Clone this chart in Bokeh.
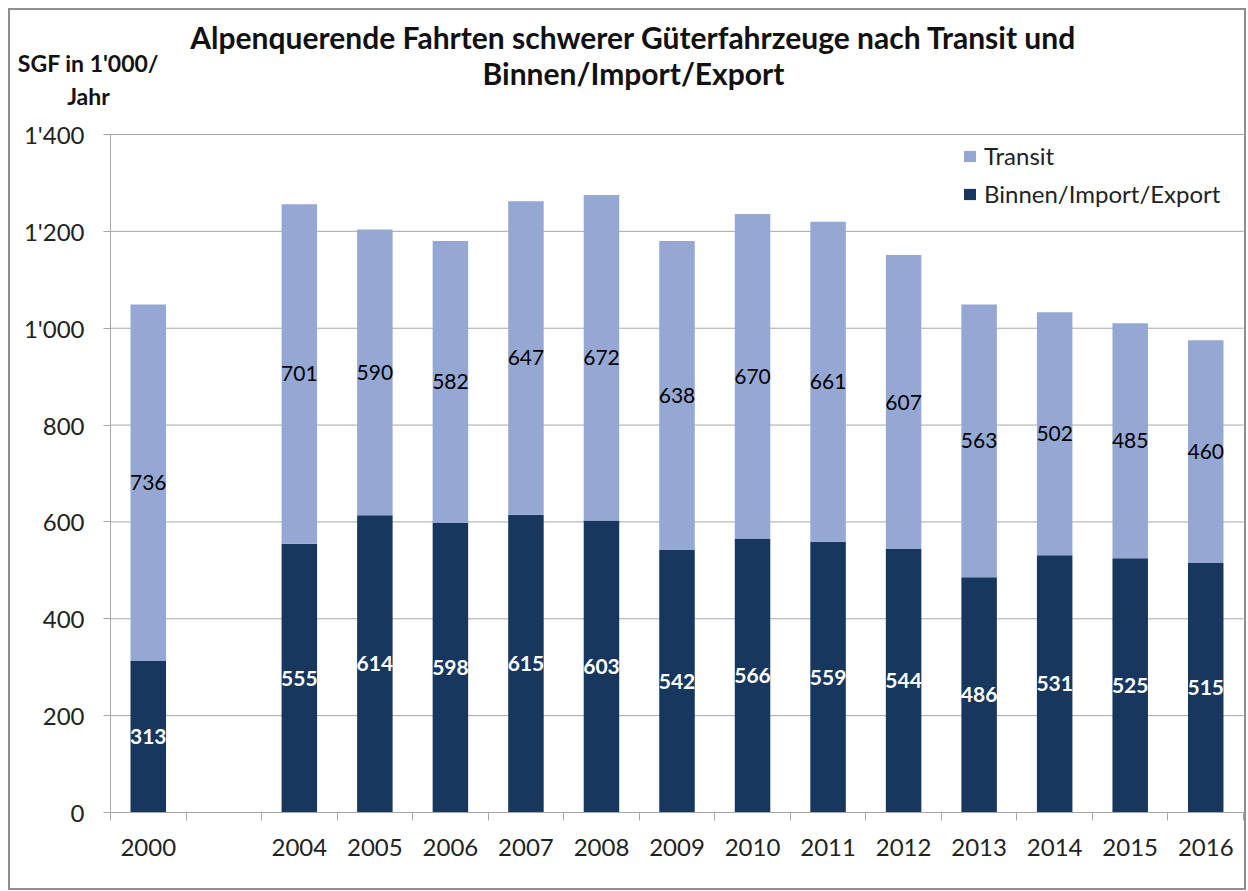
from bokeh.plotting import figure
from bokeh.models import Range1d, FixedTicker, Label, ColumnDataSource, Legend, LegendItem
from bokeh.core.properties import value
from bokeh.embed import file_html
from bokeh.resources import INLINE

# ---- data ----
slots = ["2000", "", "2004", "2005", "2006", "2007", "2008", "2009", "2010",
         "2011", "2012", "2013", "2014", "2015", "2016"]
years = ["2000", "2004", "2005", "2006", "2007", "2008", "2009", "2010",
         "2011", "2012", "2013", "2014", "2015", "2016"]
binnen = [313, 555, 614, 598, 615, 603, 542, 566, 559, 544, 486, 531, 525, 515]
transit = [736, 701, 590, 582, 647, 672, 638, 670, 661, 607, 563, 502, 485, 460]
y_ticks = [0, 200, 400, 600, 800, 1000, 1200, 1400]
y_tick_labels = ["0", "200", "400", "600", "800", "1'000", "1'200", "1'400"]

title_lines = ["Alpenquerende Fahrten schwerer Güterfahrzeuge nach Transit und",
               "Binnen/Import/Export"]
ylabel_lines = ["SGF in 1'000/", "Jahr"]

DARK = "#17375E"
LIGHT = "#95A8D4"
GRID = "#A6A6A6"
FONT = "Lato"

# ---- layout (page pixels) ----
CANVAS_LEFT, CANVAS_TOP, CANVAS_BOTTOM = 10, 10, 888
AX_LEFT, AX_RIGHT, AX_TOP, AX_BOTTOM = 110, 1243, 134, 812
FRAME_W = 1234
Y_MAX = y_ticks[-1]
NSLOT = len(slots)
SX = (AX_RIGHT - AX_LEFT) / NSLOT
SY = (AX_BOTTOM - AX_TOP) / Y_MAX


def X(px):
    return (px - AX_LEFT) / SX


def Y(py):
    return (AX_BOTTOM - py) / SY


x_range = Range1d(X(CANVAS_LEFT), X(CANVAS_LEFT + FRAME_W))
y_range = Range1d(Y(CANVAS_BOTTOM), Y(CANVAS_TOP))

xpos = [slots.index(y) + 0.5 for y in years]
src = ColumnDataSource(dict(
    x=xpos,
    binnen=binnen,
    top=[b + t for b, t in zip(binnen, transit)],
    ybin=[b / 2 for b in binnen],
    ytra=[b + t / 2 for b, t in zip(binnen, transit)],
    lbin=[str(v) for v in binnen],
    ltra=[str(v) for v in transit],
))

p = figure(frame_width=FRAME_W, frame_height=CANVAS_BOTTOM - CANVAS_TOP,
           min_border_left=0, min_border_right=0, min_border_top=0, min_border_bottom=0,
           x_range=x_range, y_range=y_range,
           output_backend="svg", toolbar_location=None)
p.styles = {"border": "2px solid #8E8E8E", "margin-left": "8px", "margin-top": "8px"}
p.outline_line_color = None
p.background_fill_color = "white"
p.border_fill_color = "white"
p.xgrid.grid_line_color = None
p.ygrid.grid_line_color = None

# horizontal gridlines limited to the plot area
grid_y = y_ticks[1:]
p.segment(x0=[0] * len(grid_y), x1=[NSLOT] * len(grid_y), y0=grid_y, y1=grid_y,
          line_color=GRID, line_width=1, level="underlay")

r_bin = p.vbar(x="x", top="binnen", bottom=0, width=0.47, source=src,
               fill_color=DARK, line_color=None)
r_tra = p.vbar(x="x", top="top", bottom="binnen", width=0.47, source=src,
               fill_color=LIGHT, line_color=None)

p.text(x="x", y="ybin", text="lbin", source=src, text_align="center",
       text_baseline="middle", text_color="white", text_font=value(FONT),
       text_font_size="21px", text_font_style="bold")
p.text(x="x", y="ytra", text="ltra", source=src, text_align="center",
       text_baseline="middle", text_color="black", text_font=value(FONT),
       text_font_size="21px")

# x axis, fixed at y = 0
xax = p.xaxis[0]
xax.fixed_location = 0
xax.bounds = (0, NSLOT)
xax.ticker = FixedTicker(ticks=[i + 0.5 for i, s in enumerate(slots) if s],
                         minor_ticks=list(range(NSLOT + 1)))
xax.major_label_overrides = {i + 0.5: s for i, s in enumerate(slots) if s}
xax.major_tick_line_color = None
xax.major_tick_out = 0
xax.major_tick_in = 0
xax.minor_tick_line_color = GRID
xax.minor_tick_out = 8
xax.minor_tick_in = 0
xax.axis_line_color = GRID
xax.major_label_text_font = FONT
xax.major_label_text_font_size = "24px"
xax.major_label_text_color = "#222222"
xax.major_label_standoff = 18

# y axis, fixed at x = 0
yax = p.yaxis[0]
yax.fixed_location = 0
yax.bounds = (0, Y_MAX)
yax.ticker = FixedTicker(ticks=y_ticks, minor_ticks=[])
yax.major_label_overrides = {t: l for t, l in zip(y_ticks, y_tick_labels)}
yax.major_tick_line_color = GRID
yax.major_tick_out = 7
yax.major_tick_in = 0
yax.minor_tick_line_color = None
yax.axis_line_color = GRID
yax.major_label_text_font = FONT
yax.major_label_text_font_size = "24px"
yax.major_label_text_color = "#222222"
yax.major_label_standoff = 19

# legend
legend = Legend(items=[LegendItem(label="Transit", renderers=[r_tra]),
                       LegendItem(label="Binnen/Import/Export", renderers=[r_bin])],
                location=(962 - CANVAS_LEFT, CANVAS_BOTTOM - 208), border_line_color=None,
                background_fill_alpha=0, padding=0, margin=0, spacing=9,
                glyph_width=15, glyph_height=14, label_standoff=7,
                label_text_font=FONT, label_text_font_size="24px",
                label_height=22, label_text_color="#222222")
p.add_layout(legend)

# title and y label
for line, py in zip(title_lines, [36, 72]):
    p.add_layout(Label(x=X(633), y=Y(py), text=line, text_align="center",
                       text_baseline="middle", text_font=FONT, text_font_style="bold",
                       text_font_size="30px", text_color="#111111"))
for line, py in zip(ylabel_lines, [62, 95]):
    p.add_layout(Label(x=X(88), y=Y(py), text=line, text_align="center",
                       text_baseline="middle", text_font=FONT, text_font_style="bold",
                       text_font_size="23px", text_color="#111111"))

open("out.html", "w").write(file_html(p, INLINE))
